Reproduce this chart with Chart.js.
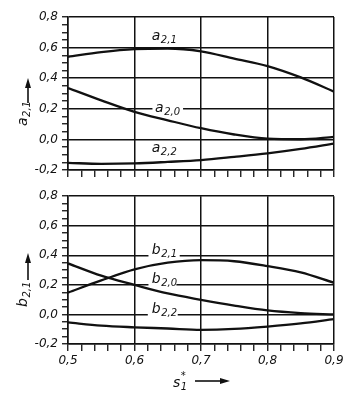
<!DOCTYPE html>
<html>
<head>
<meta charset="utf-8">
<script src="https://cdn.jsdelivr.net/npm/chart.js@4.4.1/dist/chart.umd.min.js"></script>
<style>
  html, body { margin: 0; padding: 0; background: #fff; }
  #wrap { position: relative; width: 357px; height: 393px; overflow: hidden; }
  #c1 { position: absolute; left: 0; top: 0; }
  #c2 { position: absolute; left: 0; top: 185px; }
</style>
</head>
<body>
<div id="wrap">
  <canvas id="c1" width="357" height="185"></canvas>
  <canvas id="c2" width="357" height="208"></canvas>
</div>
<script>
// ---- data ----
const s1 = [0.50, 0.55, 0.60, 0.65, 0.70, 0.75, 0.80, 0.85, 0.90];
const a21 = [0.540, 0.570, 0.590, 0.594, 0.576, 0.528, 0.479, 0.405, 0.312];
const a20 = [0.336, 0.255, 0.180, 0.125, 0.073, 0.032, 0.005, 0.001, 0.017];
const a22 = [-0.153, -0.160, -0.157, -0.147, -0.135, -0.114, -0.091, -0.062, -0.027];
const b21 = [0.148, 0.230, 0.305, 0.350, 0.367, 0.360, 0.327, 0.284, 0.214];
const b20 = [0.345, 0.262, 0.200, 0.142, 0.099, 0.060, 0.027, 0.009, 0.000];
const b22 = [-0.054, -0.076, -0.087, -0.095, -0.104, -0.098, -0.082, -0.061, -0.032];
const xTickValues = [0.5, 0.6, 0.7, 0.8, 0.9];
const yTickValues = [-0.2, 0.0, 0.2, 0.4, 0.6, 0.8];

const INK = '#111';
const FONT = '"DejaVu Sans", sans-serif';

function fmt(v) {
  let r = Math.round(v * 10) / 10;
  if (Math.abs(r) < 1e-9) r = 0;
  return r.toFixed(1).replace('.', ',');
}
function isMajorX(v) { return xTickValues.some(t => Math.abs(t - v) < 1e-6); }
function isMajorY(v) { return yTickValues.some(t => Math.abs(t - v) < 1e-6); }

function drawSub(ctx, x, y, main, sub, sup) {
  ctx.fillStyle = INK;
  ctx.textAlign = 'left';
  ctx.textBaseline = 'alphabetic';
  ctx.font = 'italic 14px ' + FONT;
  ctx.fillText(main, x, y);
  const w = ctx.measureText(main).width;
  ctx.font = 'italic 10px ' + FONT;
  if (sub) ctx.fillText(sub, x + w + 0.5, y + 3);
  if (sup) ctx.fillText(sup, x + w + 0.5, y - 8);
}
function arrowUp(ctx, x, y0, y1) {
  ctx.strokeStyle = INK; ctx.fillStyle = INK; ctx.lineWidth = 1.6;
  ctx.beginPath(); ctx.moveTo(x, y0); ctx.lineTo(x, y1 + 8); ctx.stroke();
  ctx.beginPath(); ctx.moveTo(x, y1); ctx.lineTo(x - 3, y1 + 10); ctx.lineTo(x + 3, y1 + 10); ctx.closePath(); ctx.fill();
}
function arrowRight(ctx, x0, x1, y) {
  ctx.strokeStyle = INK; ctx.fillStyle = INK; ctx.lineWidth = 1.6;
  ctx.beginPath(); ctx.moveTo(x0, y); ctx.lineTo(x1 - 8, y); ctx.stroke();
  ctx.beginPath(); ctx.moveTo(x1, y); ctx.lineTo(x1 - 10, y - 3); ctx.lineTo(x1 - 10, y + 3); ctx.closePath(); ctx.fill();
}

const annot = {
  id: 'annot',
  beforeDatasetsDraw(chart, args, opts) {
    const ctx = chart.ctx, xs = chart.scales.x, ys = chart.scales.y;
    ctx.save();
    ctx.fillStyle = '#fff';
    (opts.labels || []).forEach(l => {
      if (!l.gap) return;
      const x0 = xs.getPixelForValue(l.gap[0]), x1 = xs.getPixelForValue(l.gap[1]);
      const gy = ys.getPixelForValue(l.gapY);
      ctx.fillRect(x0, gy - 2.5, x1 - x0, 5);
    });
    ctx.restore();
  },
  afterDraw(chart, args, opts) {
    const ctx = chart.ctx, xs = chart.scales.x, ys = chart.scales.y;
    ctx.save();
    (opts.labels || []).forEach(l => {
      drawSub(ctx, xs.getPixelForValue(l.x), ys.getPixelForValue(l.y), l.main, l.sub);
    });
    if (opts.yTitle) {
      const t = opts.yTitle;
      ctx.save();
      ctx.translate(t.x, t.y);
      ctx.rotate(-Math.PI / 2);
      drawSub(ctx, 0, 0, t.main, t.sub);
      ctx.restore();
      arrowUp(ctx, t.ax, t.ay0, t.ay1);
    }
    if (opts.xTitle) {
      const t = opts.xTitle;
      drawSub(ctx, t.x, t.y, t.main, t.sub, t.sup);
      arrowRight(ctx, t.ax0, t.ax1, t.ay);
    }
    ctx.restore();
  }
};

function makeChart(canvas, series, padTop, xAxisH, showXLabels, annotOpts) {
  return new Chart(canvas, {
    type: 'line',
    data: {
      datasets: series.map(vals => ({
        data: s1.map((x, i) => ({ x: x, y: vals[i] })),
        borderColor: INK,
        borderWidth: 2.3,
        pointRadius: 0,
        cubicInterpolationMode: 'monotone',
        fill: false
      }))
    },
    options: {
      responsive: false,
      animation: false,
      events: [],
      layout: { padding: { top: padTop, right: 23, left: 0, bottom: 0 } },
      plugins: { legend: { display: false }, tooltip: { enabled: false }, annot: annotOpts },
      scales: {
        x: {
          type: 'linear', min: 0.5, max: 0.9,
          afterFit: s => { s.height = xAxisH; },
          ticks: {
            stepSize: 0.02, autoSkip: false, maxRotation: 0, padding: 3,
            color: INK, font: { family: FONT, size: 12, style: 'italic' },
            callback: v => (showXLabels && isMajorX(v)) ? fmt(v) : ''
          },
          grid: {
            color: c => isMajorX(c.tick.value) ? INK : 'rgba(0,0,0,0)',
            lineWidth: 1.5, tickColor: INK, tickWidth: 1.3, tickLength: 7, drawTicks: true
          },
          border: { display: true, color: INK, width: 1.5 }
        },
        y: {
          type: 'linear', min: -0.2, max: 0.8,
          afterFit: s => { s.width = 68; },
          ticks: {
            stepSize: 0.05, autoSkip: false, padding: 4,
            color: INK, font: { family: FONT, size: 12, style: 'italic' },
            callback: v => isMajorY(v) ? fmt(v) : ''
          },
          grid: {
            color: c => isMajorY(c.tick.value) ? INK : 'rgba(0,0,0,0)',
            lineWidth: 1.5, tickColor: INK, tickWidth: 1.3, tickLength: 6, drawTicks: true
          },
          border: { display: true, color: INK, width: 1.5 }
        }
      }
    },
    plugins: [annot]
  });
}

makeChart(document.getElementById('c1'), [a21, a20, a22], 17, 15, false, {
  labels: [
    { main: 'a', sub: '2,1', x: 0.626, y: 0.650 },
    { main: 'a', sub: '2,0', x: 0.631, y: 0.177, gap: [0.627, 0.673], gapY: 0.2 },
    { main: 'a', sub: '2,2', x: 0.626, y: -0.085 }
  ],
  yTitle: { main: 'a', sub: '2,1', x: 27, y: 126, ax: 28, ay0: 103, ay1: 78 }
});

makeChart(document.getElementById('c2'), [b21, b20, b22], 6, 49, true, {
  labels: [
    { main: 'b', sub: '2,1', x: 0.626, y: 0.41, gap: [0.621, 0.668], gapY: 0.4 },
    { main: 'b', sub: '2,0', x: 0.626, y: 0.215, gap: [0.621, 0.663], gapY: 0.2 },
    { main: 'b', sub: '2,2', x: 0.626, y: 0.008, gap: [0.620, 0.665], gapY: 0.0 }
  ],
  yTitle: { main: 'b', sub: '2,1', x: 27, y: 307 - 185, ax: 28, ay0: 280 - 185, ay1: 253 - 185 },
  xTitle: { main: 's', sub: '1', sup: '*', x: 173, y: 387 - 185, ax0: 195, ax1: 230, ay: 381 - 185 }
});
</script>
</body>
</html>
